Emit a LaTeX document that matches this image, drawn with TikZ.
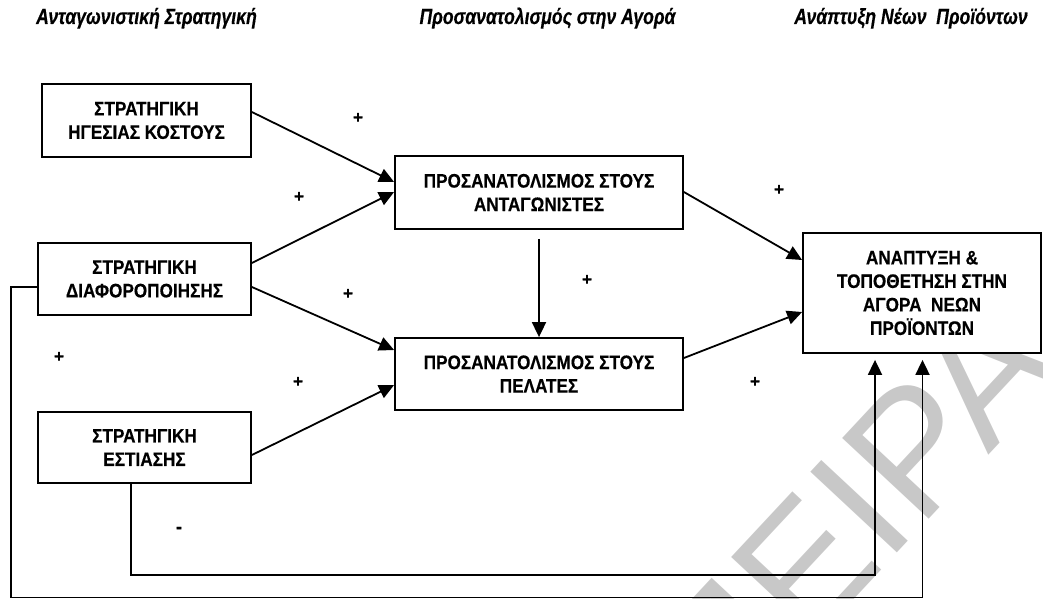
\documentclass[tikz,border=0pt]{standalone}
\usepackage{fontspec}
\setmainfont{Liberation Sans}
\newfontfamily\boxfont{Liberation Sans Bold}[FakeStretch=0.88,FakeBold=0.4]
\newfontfamily\headfont{Liberation Sans Bold Italic}[FakeStretch=0.8,FakeBold=0.4]
\newfontfamily\signfont{Liberation Sans Bold}[FakeBold=0.4]
\usetikzlibrary{arrows.meta}
\definecolor{wmgray}{RGB}{200,200,200}
\begin{document}
\begin{tikzpicture}[x=1pt,y=-1pt,
  box/.style={draw, fill=white, line width=1.8pt, align=center, inner sep=0pt,
    font=\boxfont\fontsize{19.5}{23.5}\selectfont},
  conn/.style={line width=1.8pt, -{Triangle[length=15pt,width=14pt]}},
  head/.style={font=\headfont\fontsize{22}{22}\selectfont, anchor=base, inner sep=0pt},
  sign/.style={font=\signfont\fontsize{17}{17}\selectfont, inner sep=0pt},
  wmtext/.style={text=wmgray, font=\fontsize{172}{172}\selectfont, rotate=47, inner sep=0pt}
]
\useasboundingbox (0,0) rectangle (1043,599);

% background watermark
\begin{scope}
  \clip (0,0) rectangle (1043,599);
  \node[wmtext] (wm) at (852,515) {ΠΕΙΡΑ};
\end{scope}

% column headings
\node[head] (h1) at (146.5,24) {Ανταγωνιστική Στρατηγική};
\node[head] (h2) at (547.5,24) {Προσανατολισμός στην Αγορά};
\node[head] (h3) at (911,24) {Ανάπτυξη Νέων\ \ Προϊόντων};

% strategy boxes
\node[box, minimum width=209pt, minimum height=73pt] (b1) at (146.5,120.5) {ΣΤΡΑΤΗΓΙΚΗ\\ΗΓΕΣΙΑΣ ΚΟΣΤΟΥΣ};
\node[box, minimum width=213pt, minimum height=72pt] (b2) at (144.5,279) {ΣΤΡΑΤΗΓΙΚΗ\\ΔΙΑΦΟΡΟΠΟΙΗΣΗΣ};
\node[box, minimum width=213pt, minimum height=71pt] (b3) at (144.5,447.5) {ΣΤΡΑΤΗΓΙΚΗ\\ΕΣΤΙΑΣΗΣ};

% orientation boxes
\node[box, minimum width=288pt, minimum height=73pt] (b4) at (539,192.5) {ΠΡΟΣΑΝΑΤΟΛΙΣΜΟΣ ΣΤΟΥΣ\\ΑΝΤΑΓΩΝΙΣΤΕΣ};
\node[box, minimum width=288pt, minimum height=72pt] (b5) at (539,374) {ΠΡΟΣΑΝΑΤΟΛΙΣΜΟΣ ΣΤΟΥΣ\\ΠΕΛΑΤΕΣ};

% outcome box
\node[box, minimum width=238pt, minimum height=120pt] (b6) at (922,293) {ΑΝΑΠΤΥΞΗ \&\\ΤΟΠΟΘΕΤΗΣΗ ΣΤΗΝ\\ΑΓΟΡΑ\ \ ΝΕΩΝ\\ΠΡΟΪΟΝΤΩΝ};

% links
\draw[conn] ([yshift=8.5pt]b1.east) -- ([yshift=10.5pt]b4.west);
\draw[conn] ([yshift=16pt]b2.east) -- ([yshift=0.5pt]b4.west);
\draw[conn] ([yshift=-8pt]b2.east) -- ([yshift=24pt]b5.west);
\draw[conn] ([yshift=-7.5pt]b3.east) -- ([yshift=-11pt]b5.west);
\draw[conn] ([yshift=-9pt]b4.south) -- (b5.north);
\draw[conn] ([yshift=0.5pt]b4.east) -- ([yshift=33pt]b6.west);
\draw[conn] ([yshift=16pt]b5.east) -- ([yshift=-19pt]b6.west);

% feedback paths
\coordinate (fbS) at (131,575);
\coordinate (fbL) at (11,597.5);
\draw[conn] (b3.south -| fbS) -- (fbS) -| ([xshift=-47pt,yshift=-6pt]b6.south);
\draw[conn] ([yshift=-8pt]b2.west) -| (fbL) -| ([xshift=0.5pt,yshift=-6pt]b6.south);

% signs
\node[sign] (s1) at (358,118) {+};
\node[sign] (s2) at (299,197) {+};
\node[sign] (s3) at (348,294) {+};
\node[sign] (s4) at (59,357) {+};
\node[sign] (s5) at (298,382) {+};
\node[sign] (s6) at (587,280) {+};
\node[sign] (s7) at (779,190) {+};
\node[sign] (s8) at (755,382) {+};
\node[sign, font=\signfont\fontsize{19}{19}\selectfont] (s9) at (179,530) {-};
\end{tikzpicture}
\end{document}
